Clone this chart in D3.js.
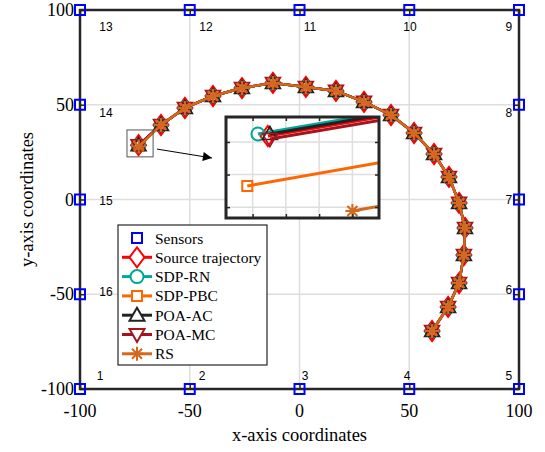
<!DOCTYPE html>
<html>
<head>
<meta charset="utf-8">
<script src="https://cdn.jsdelivr.net/npm/d3@7"></script>
<style>
  body { margin: 0; background: #fff; }
  text { font-family: "Liberation Serif", "Times New Roman", serif; }
</style>
</head>
<body>
<div id="chart"></div>
<script>
// sensors (16 anchors on the square border) and their label positions
const sensorX = [-100, -50, 0, 50, 100, 100, 100, 100, 100, 50, 0, -50, -100, -100, -100, -100];
const sensorY = [-100, -100, -100, -100, -100, -50, 0, 50, 100, 100, 100, 100, 100, 50, 0, -50];
const sensorLabelX = [-90.9, -44.4, 2.5, 49, 95.4, 95.4, 95.4, 95.4, 95.4, 50.3, 4.8, -42.6, -88.2, -88.2, -88.2, -88.2];
const sensorLabelY = [-93.1, -93.1, -93.1, -93.1, -93.1, -47.8, -0.3, 45.6, 91, 91, 91, 91, 91, 45.6, -0.8, -48.8];

// true source trajectory
const srcX = [-73.327, -63.1, -52.2, -39.4, -26.2, -12.1, 2.9, 16.6, 29.4, 41.7, 52.2, 61.3, 68.1, 72.7, 75.4, 74.9, 72.7, 67.7, 60.4];
const srcY = [28.655, 39.3, 48.3, 54.6, 58.8, 61.5, 59.4, 57.3, 51.5, 44.6, 35.1, 24.0, 11.9, -1.8, -15.0, -29.3, -44.1, -56.7, -69.4];

// estimated trajectories
const rnX  = [-73.342, -63.1, -52.2, -39.4, -26.2, -12.1, 2.9, 16.6, 29.4, 41.7, 52.2, 61.3, 68.1, 72.7, 75.4, 74.9, 72.7, 67.7, 60.4];
const rnY  = [28.674, 39.3, 48.3, 54.6, 58.8, 61.5, 59.4, 57.3, 51.5, 44.6, 35.1, 24.0, 11.9, -1.8, -15.0, -29.3, -44.1, -56.7, -69.4];
const pbcX = [-73.358, -63.1, -52.2, -39.4, -26.2, -12.1, 2.9, 16.6, 29.4, 41.7, 52.2, 61.3, 68.1, 72.7, 75.4, 74.9, 72.7, 67.7, 60.4];
const pbcY = [28.195, 39.3, 48.3, 54.6, 58.8, 61.5, 59.4, 57.3, 51.5, 44.6, 35.1, 24.0, 11.9, -1.8, -15.0, -29.3, -44.1, -56.7, -69.4];
const acX  = [-73.324, -63.1, -52.2, -39.4, -26.2, -12.1, 2.9, 16.6, 29.4, 41.7, 52.2, 61.3, 68.1, 72.7, 75.4, 74.9, 72.7, 67.7, 60.4];
const acY  = [28.674, 39.3, 48.3, 54.6, 58.8, 61.5, 59.4, 57.3, 51.5, 44.6, 35.1, 24.0, 11.9, -1.8, -15.0, -29.3, -44.1, -56.7, -69.4];
const mcX  = [-73.324, -63.1, -52.2, -39.4, -26.2, -12.1, 2.9, 16.6, 29.4, 41.7, 52.2, 61.3, 68.1, 72.7, 75.4, 74.9, 72.7, 67.7, 60.4];
const mcY  = [28.627, 39.3, 48.3, 54.6, 58.8, 61.5, 59.4, 57.3, 51.5, 44.6, 35.1, 24.0, 11.9, -1.8, -15.0, -29.3, -44.1, -56.7, -69.4];
const rsX  = [-73.2, -63.1, -52.2, -39.4, -26.2, -12.1, 2.9, 16.6, 29.4, 41.7, 52.2, 61.3, 68.1, 72.7, 75.4, 74.9, 72.7, 67.7, 60.4];
const rsY  = [27.964, 39.3, 48.3, 54.6, 58.8, 61.5, 59.4, 57.3, 51.5, 44.6, 35.1, 24.0, 11.9, -1.8, -15.0, -29.3, -44.1, -56.7, -69.4];

const legendNames = ["Sensors", "Source trajectory", "SDP-RN", "SDP-PBC", "POA-AC", "POA-MC", "RS"];
const tickValues = [-100, -50, 0, 50, 100];

// zoom window (main axes) and inset axes ranges
const zoomBoxX = [-78.6, -66.7], zoomBoxY = [22.5, 36.7];
const arrowFrom = [-64.9, 26.6], arrowTo = [-39.9, 21.9];
const insetDomX = [-73.39, -73.16], insetDomY = [27.9, 28.83];
const insetTicksX = [-73.35, -73.3, -73.25, -73.2], insetTicksY = [28.0, 28.3, 28.6];

const margin = {top: 10, right: 26, bottom: 63, left: 80},
    width = 545 - margin.left - margin.right,
    height = 452 - margin.top - margin.bottom;

const svg = d3.select("#chart")
  .append("svg")
    .attr("width", 545)
    .attr("height", 452)
  .append("g")
    .attr("transform", `translate(${margin.left}, ${margin.top})`);

const x = d3.scaleLinear().domain([-100, 100]).range([0, width]);
const y = d3.scaleLinear().domain([-100, 100]).range([height, 0]);

// marker shapes
const shapes = {
  diamond: () => "M0,-10L7.5,0L0,10L-7.5,0Z",
  circle: () => d3.symbol(d3.symbolCircle, Math.PI * 6.5 * 6.5)(),
  square: () => "M-5,-5H5V5H-5Z",
  up: () => "M0,-7.5L7.5,5.5H-7.5Z",
  down: () => "M0,7.5L7.5,-5.5H-7.5Z",
  star: () => "M-7,0H7M0,-7V7M-5,-5L5,5M-5,5L5,-5"
};

const series = [
  {name: "Source trajectory", xs: srcX, ys: srcY, color: "#ff0000", shape: "diamond"},
  {name: "SDP-RN", xs: rnX, ys: rnY, color: "#00a89a", shape: "circle"},
  {name: "SDP-PBC", xs: pbcX, ys: pbcY, color: "#ff6600", shape: "square"},
  {name: "POA-AC", xs: acX, ys: acY, color: "#222222", shape: "up"},
  {name: "POA-MC", xs: mcX, ys: mcY, color: "#a3141e", shape: "down"},
  {name: "RS", xs: rsX, ys: rsY, color: "#d2691e", shape: "star"}
];

// grid
const grid = svg.append("g");
tickValues.slice(1, -1).forEach(v => {
  grid.append("line").attr("x1", x(v)).attr("x2", x(v)).attr("y1", 0).attr("y2", height)
    .attr("stroke", "#dedede").attr("stroke-width", 1.5);
  grid.append("line").attr("y1", y(v)).attr("y2", y(v)).attr("x1", 0).attr("x2", width)
    .attr("stroke", "#dedede").attr("stroke-width", 1.5);
});

function drawSeries(g, sx, sy, s, lw) {
  const pts = s.xs.map((v, i) => [sx(v), sy(s.ys[i])]);
  g.append("path")
    .attr("d", d3.line()(pts))
    .attr("fill", "none")
    .attr("stroke", s.color)
    .attr("stroke-width", lw);
  g.selectAll(null)
    .data(pts)
    .enter()
    .append("path")
      .attr("d", shapes[s.shape]())
      .attr("transform", d => `translate(${d[0]},${d[1]})`)
      .attr("fill", "none")
      .attr("stroke", s.color)
      .attr("stroke-width", s.shape == "up" || s.shape == "down" ? 1.6 : 2);
}

const plot = svg.append("g");
series.forEach(s => drawSeries(plot, x, y, s, 2.5));

// zoom indicator rectangle + arrow
svg.append("rect")
  .attr("x", x(zoomBoxX[0])).attr("y", y(zoomBoxY[1]))
  .attr("width", x(zoomBoxX[1]) - x(zoomBoxX[0]))
  .attr("height", y(zoomBoxY[0]) - y(zoomBoxY[1]))
  .attr("fill", "none").attr("stroke", "#555").attr("stroke-width", 1);

svg.append("defs").append("marker")
  .attr("id", "arrowhead")
  .attr("viewBox", "0 0 10 10")
  .attr("refX", 10).attr("refY", 5)
  .attr("markerWidth", 12).attr("markerHeight", 9)
  .attr("markerUnits", "userSpaceOnUse")
  .attr("orient", "auto")
  .append("path").attr("d", "M0,0L10,5L0,10Z").attr("fill", "#000");

svg.append("line")
  .attr("x1", x(arrowFrom[0])).attr("y1", y(arrowFrom[1]))
  .attr("x2", x(arrowTo[0])).attr("y2", y(arrowTo[1]))
  .attr("stroke", "#000").attr("stroke-width", 1)
  .attr("marker-end", "url(#arrowhead)");

// axes box with inner ticks
const ax = svg.append("g");
ax.append("g").call(d3.axisBottom(x).tickValues(tickValues).tickSize(-5).tickFormat(""))
  .attr("transform", `translate(0,${height})`);
ax.append("g").call(d3.axisTop(x).tickValues(tickValues).tickSize(-5).tickFormat(""));
ax.append("g").call(d3.axisLeft(y).tickValues(tickValues).tickSize(-5).tickFormat(""));
ax.append("g").call(d3.axisRight(y).tickValues(tickValues).tickSize(-5).tickFormat(""))
  .attr("transform", `translate(${width},0)`);
ax.selectAll(".domain").remove();
ax.selectAll(".tick line").attr("stroke", "#262626").attr("stroke-width", 1.5);
ax.append("rect").attr("width", width).attr("height", height)
  .attr("fill", "none").attr("stroke", "#262626").attr("stroke-width", 2.5);

// tick labels
tickValues.forEach(v => {
  svg.append("text").attr("x", x(v)).attr("y", height + 28)
    .attr("text-anchor", "middle").attr("font-size", 18).text(v);
  svg.append("text").attr("x", -6).attr("y", y(v) + 6)
    .attr("text-anchor", "end").attr("font-size", 18).text(v);
});

svg.append("text").attr("x", width / 2).attr("y", height + 52)
  .attr("text-anchor", "middle").attr("font-size", 18.5).text("x-axis coordinates");
svg.append("text").attr("transform", `translate(-47,${height / 2}) rotate(-90)`)
  .attr("text-anchor", "middle").attr("font-size", 18.5).text("y-axis coordinates");

// sensors
svg.append("g").selectAll("rect")
  .data(sensorX.map((v, i) => [v, sensorY[i]]))
  .enter().append("rect")
    .attr("x", d => x(d[0]) - 5).attr("y", d => y(d[1]) - 5)
    .attr("width", 10).attr("height", 10)
    .attr("fill", "none").attr("stroke", "#0000ff").attr("stroke-width", 2);

svg.append("g").selectAll("text")
  .data(sensorLabelX.map((v, i) => [v, sensorLabelY[i], i + 1]))
  .enter().append("text")
    .attr("x", d => x(d[0])).attr("y", d => y(d[1]) + 4)
    .attr("text-anchor", "middle")
    .style("font-family", "'Liberation Sans', Arial, sans-serif")
    .attr("font-size", 12)
    .text(d => d[2]);

// inset axes
const inset = {left: 146, top: 107, width: 153, height: 101};
const ix = d3.scaleLinear().domain(insetDomX).range([0, inset.width]);
const iy = d3.scaleLinear().domain(insetDomY).range([inset.height, 0]);
const ig = svg.append("g").attr("transform", `translate(${inset.left},${inset.top})`);
ig.append("clipPath").attr("id", "insetclip")
  .append("rect").attr("width", inset.width).attr("height", inset.height);
ig.append("rect").attr("width", inset.width).attr("height", inset.height).attr("fill", "#fff");
insetTicksX.forEach(v => ig.append("line").attr("x1", ix(v)).attr("x2", ix(v))
  .attr("y1", 0).attr("y2", inset.height).attr("stroke", "#dedede").attr("stroke-width", 1.5));
insetTicksY.forEach(v => ig.append("line").attr("y1", iy(v)).attr("y2", iy(v))
  .attr("x1", 0).attr("x2", inset.width).attr("stroke", "#dedede").attr("stroke-width", 1.5));
const iplot = ig.append("g").attr("clip-path", "url(#insetclip)");
series.forEach(s => drawSeries(iplot, ix, iy, s, 3));
const iax = ig.append("g");
iax.append("g").call(d3.axisBottom(ix).tickValues(insetTicksX).tickSize(-4).tickFormat(""))
  .attr("transform", `translate(0,${inset.height})`);
iax.append("g").call(d3.axisTop(ix).tickValues(insetTicksX).tickSize(-4).tickFormat(""));
iax.append("g").call(d3.axisLeft(iy).tickValues(insetTicksY).tickSize(-4).tickFormat(""));
iax.append("g").call(d3.axisRight(iy).tickValues(insetTicksY).tickSize(-4).tickFormat(""))
  .attr("transform", `translate(${inset.width},0)`);
iax.selectAll(".domain").remove();
iax.selectAll(".tick line").attr("stroke", "#262626").attr("stroke-width", 1.5);
ig.append("rect").attr("width", inset.width).attr("height", inset.height)
  .attr("fill", "none").attr("stroke", "#262626").attr("stroke-width", 3);

// legend
const lg = svg.append("g").attr("transform", "translate(38,215)");
lg.append("rect").attr("width", 149).attr("height", 140)
  .attr("fill", "#fff").attr("stroke", "#262626").attr("stroke-width", 1.2);
const legendStyles = [{color: "#0000ff", shape: "square"}].concat(series);
legendNames.forEach((name, i) => {
  const row = lg.append("g").attr("transform", `translate(0,${13 + i * 19.3})`);
  const st = legendStyles[i];
  if (i > 0) {
    row.append("line").attr("x1", 4).attr("x2", 34).attr("stroke", st.color).attr("stroke-width", 3);
  }
  row.append("path").attr("d", shapes[st.shape]())
    .attr("transform", "translate(19,0)")
    .attr("fill", i > 0 ? "#fff" : "none")
    .attr("stroke", st.color).attr("stroke-width", 2);
  row.append("text").attr("x", 37).attr("y", 5.5).attr("font-size", 15.5).text(name);
});
</script>
</body>
</html>
